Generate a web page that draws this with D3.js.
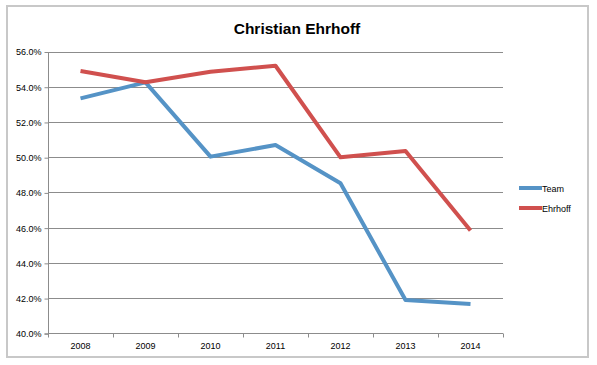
<!DOCTYPE html>
<html><head><meta charset="utf-8">
<script src="https://cdn.jsdelivr.net/npm/d3@7/dist/d3.min.js"></script>
<style>body{margin:0;background:#fff;}svg{display:block;}</style>
</head><body>
<svg id="c" width="597" height="365"></svg>
<script>
const years = ["2008","2009","2010","2011","2012","2013","2014"];
const team = [53.34, 54.25, 50.03, 50.69, 48.52, 41.89, 41.66];
const ehrhoff = [54.89, 54.25, 54.85, 55.19, 49.99, 50.35, 45.84];
const yTicks = [40,42,44,46,48,50,52,54,56];
const seriesNames = ["Team","Ehrhoff"];
const colors = ["#5593c6","#d0504e"];

const svg = d3.select("#c");
const font = "'Liberation Sans', Arial, sans-serif";
svg.append("rect").attr("x",7).attr("y",6).attr("width",581).attr("height",351)
  .attr("fill","#fff").attr("stroke","#c8c8c8").attr("stroke-width",2);

const L=48, R=503, T=51.5, B=333.3;
const x = d3.scaleBand().domain(years).range([L,R]);
const y = d3.scaleLinear().domain([40,56]).range([B,T]);

svg.append("text").attr("x",297).attr("y",34).attr("text-anchor","middle")
  .attr("font-family",font).attr("font-weight","bold").attr("font-size",15.5)
  .attr("fill","#000").text("Christian Ehrhoff");

// grid
svg.append("g").selectAll("line").data(yTicks.filter(d=>d>40)).join("line")
  .attr("x1",L).attr("x2",R).attr("y1",d=>Math.round(y(d))+0.5).attr("y2",d=>Math.round(y(d))+0.5)
  .attr("stroke","#8c8c8c").attr("stroke-width",1);

const yAxis = d3.axisLeft(y).tickValues(yTicks).tickSize(4).tickPadding(3).tickFormat(d=>d.toFixed(1)+"%");
const gy = svg.append("g").attr("transform",`translate(${L+0.5},0.5)`).call(yAxis);
gy.select(".domain").attr("stroke","#8c8c8c").attr("d",`M-4,${B}H0V${T}`);
gy.selectAll(".tick line").attr("stroke","#8c8c8c");
gy.selectAll("text").attr("font-family",font).attr("font-size",9).attr("fill","#000");

const xAxis = d3.axisBottom(x).tickSize(0).tickPadding(9);
const gx = svg.append("g").attr("transform",`translate(0,${Math.round(B)+0.5})`).call(xAxis);
gx.select(".domain").attr("stroke","#8c8c8c").attr("d",`M${L},0H${R}`);
gx.selectAll("text").attr("font-family",font).attr("font-size",9).attr("fill","#000");
// band boundary ticks
gx.append("g").selectAll("line").data(years.concat(["end"])).join("line")
  .attr("x1",(d,i)=>Math.round(i<years.length?x(d):R)+0.5)
  .attr("x2",(d,i)=>Math.round(i<years.length?x(d):R)+0.5)
  .attr("y1",0).attr("y2",4).attr("stroke","#8c8c8c");

const line = d3.line().x((d,i)=>x(years[i])+x.bandwidth()/2).y(d=>y(d));
[team, ehrhoff].forEach((s,k)=>{
  svg.append("path").datum(s).attr("d",line).attr("fill","none")
    .attr("stroke",colors[k]).attr("stroke-width",4).attr("stroke-linejoin","round");
});

// legend
const lg = svg.append("g");
seriesNames.forEach((n,k)=>{
  const yy = 188 + k*20;
  lg.append("line").attr("x1",519).attr("x2",542).attr("y1",yy).attr("y2",yy)
    .attr("stroke",colors[k]).attr("stroke-width",4);
  lg.append("text").attr("x",542).attr("y",yy+3.5).attr("font-family",font)
    .attr("font-size",9).attr("fill","#000").text(n);
});
</script>
</body></html>
